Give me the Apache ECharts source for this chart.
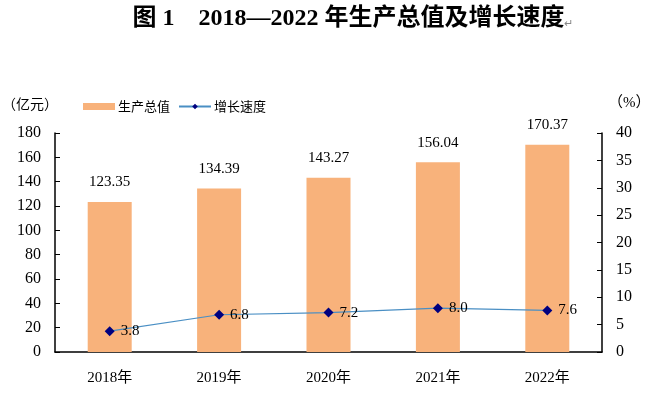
<!DOCTYPE html>
<html>
<head>
<meta charset="utf-8">
<script src="https://cdn.jsdelivr.net/npm/echarts@6/dist/echarts.min.js"></script>
<style>
  html, body { margin: 0; padding: 0; background: #fff; }
  #chart { width: 659px; height: 399px; }
</style>
</head>
<body>
<div id="chart"></div>
<script>
const years = ['2018年', '2019年', '2020年', '2021年', '2022年']
const gdp = [123.35, 134.39, 143.27, 156.04, 170.37]
const growth = [3.8, 6.8, 7.2, 8.0, 7.6]

const serif = '"Liberation Serif", "Times New Roman", "Noto Sans CJK SC", serif'
const cjk = '"Noto Sans CJK SC", sans-serif'

const chart = echarts.init(document.getElementById('chart'))
const option = {
  backgroundColor: '#fff',
  animation: false,
  title: {
    text: '图 1　2018—2022 年生产总值及增长速度{m|↵}',
    left: 348,
    textAlign: 'center',
    top: 2,
    textStyle: {
      fontFamily: '"Liberation Serif", "Noto Sans CJK SC", serif',
      fontWeight: 'bold',
      fontSize: 24,
      color: '#000',
      rich: {
        m: { fontSize: 11, color: '#888', fontWeight: 'normal', padding: [10, 0, 0, 0] }
      }
    }
  },
  legend: {
    left: 78,
    top: 95,
    itemGap: 8,
    itemWidth: 32,
    itemHeight: 7,
    textStyle: { fontFamily: cjk, fontSize: 13, color: '#000', padding: [0, 0, 0, -2] },
    data: [
      { name: '生产总值', icon: 'rect', itemStyle: { color: '#F8B27B' } },
      { name: '增长速度' }
    ]
  },
  grid: { left: 55, right: 57, top: 133, bottom: 47, outerBoundsMode: 'none', containLabel: false },
  xAxis: {
    type: 'category',
    data: years,
    axisLine: { lineStyle: { color: '#000', width: 1.5 } },
    axisTick: { inside: true, length: 6, lineStyle: { color: '#000' } },
    axisLabel: { fontFamily: serif, fontSize: 15, color: '#000', margin: 19 }
  },
  yAxis: [
    {
      type: 'value',
      name: '（亿元）',
      nameLocation: 'end',
      nameGap: 22,
      nameTextStyle: { fontFamily: cjk, fontSize: 14, color: '#000', align: 'right', padding: [0, -3, 0, 0] },
      min: 0,
      max: 180,
      interval: 20,
      splitLine: { show: false },
      axisLine: { show: true, lineStyle: { color: '#000', width: 1.5 } },
      axisTick: { show: true, inside: true, length: 5, lineStyle: { color: '#000' } },
      axisLabel: { fontFamily: serif, fontSize: 16, color: '#000', margin: 14 }
    },
    {
      type: 'value',
      name: '（%）',
      nameLocation: 'end',
      nameGap: 22,
      nameTextStyle: { fontFamily: serif, fontSize: 15, color: '#000', align: 'left', padding: [0, 0, 0, 6] },
      min: 0,
      max: 40,
      interval: 5,
      splitLine: { show: false },
      axisLine: { show: true, lineStyle: { color: '#000', width: 1.5 } },
      axisTick: { show: true, inside: true, length: 5, lineStyle: { color: '#000' } },
      axisLabel: { fontFamily: serif, fontSize: 16, color: '#000', margin: 14 }
    }
  ],
  series: [
    {
      name: '生产总值',
      type: 'bar',
      barWidth: 44,
      itemStyle: { color: '#F8B27B' },
      label: {
        show: true,
        position: 'top',
        distance: 12,
        fontFamily: serif,
        fontSize: 15,
        color: '#000'
      },
      data: gdp
    },
    {
      name: '增长速度',
      type: 'line',
      yAxisIndex: 1,
      symbol: 'diamond',
      symbolSize: 10,
      lineStyle: { color: '#4A8FC4', width: 1.2 },
      itemStyle: { color: '#00007F' },
      label: {
        show: true,
        position: 'right',
        distance: 6,
        fontFamily: serif,
        fontSize: 15,
        color: '#000',
        formatter: p => p.value.toFixed(1)
      },
      data: growth
    }
  ]
}
chart.setOption(option)
</script>
</body>
</html>
